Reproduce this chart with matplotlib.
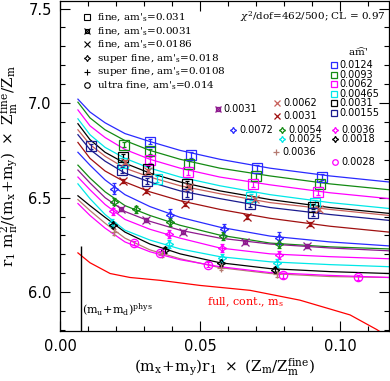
import numpy as np
import matplotlib
matplotlib.use('Agg')
import matplotlib.pyplot as plt

plt.rcParams['mathtext.fontset'] = 'dejavuserif'
plt.rcParams['font.family'] = 'DejaVu Sans'

# colours of the sea-quark masses
c_0124 = '#2a2aff'
c_0093 = '#138a13'
c_0062 = '#ff00ff'
c_00465 = '#00e8e8'
c_0031 = '#000000'
c_00155 = '#1a1a8e'
c_x0062 = '#c8605a'
c_x0031 = '#a01010'
c_purple = '#8e1a8e'
c_rosy = '#b57a70'
c_red = '#ff0000'

# x positions at which the fit curves were read
x_curve = [0.0064, 0.0107, 0.0161, 0.0232, 0.0321, 0.0429, 0.0571, 0.0750, 0.0964, 0.1175]

# fit curves, fine ensembles
fit_f0124 = [7.021, 6.953, 6.896, 6.839, 6.797, 6.750, 6.703, 6.656, 6.615, 6.583]
fit_f0093 = [7.005, 6.922, 6.859, 6.802, 6.750, 6.703, 6.656, 6.615, 6.573, 6.542]
fit_f0062 = [6.964, 6.880, 6.818, 6.755, 6.703, 6.656, 6.609, 6.568, 6.526, 6.495]
fit_f00465 = [6.917, 6.833, 6.766, 6.708, 6.656, 6.609, 6.563, 6.516, 6.474, 6.443]
fit_f0031 = [6.891, 6.807, 6.740, 6.682, 6.630, 6.583, 6.536, 6.490, 6.448, 6.417]
fit_fx0062 = [6.859, 6.781, 6.719, 6.656, 6.609, 6.563, 6.521, 6.474, 6.438, 6.406]
fit_f00155 = [6.833, 6.755, 6.693, 6.630, 6.583, 6.536, 6.495, 6.448, 6.411, 6.380]
fit_fx0031 = [6.792, 6.708, 6.641, 6.583, 6.531, 6.484, 6.438, 6.391, 6.349, 6.318]
# fit curves, super fine / ultra fine and the light-strange fine ensemble
fit_s0072 = [6.740, 6.672, 6.594, 6.516, 6.453, 6.396, 6.344, 6.297, 6.266, 6.245]
fit_s0054 = [6.672, 6.604, 6.531, 6.458, 6.406, 6.354, 6.302, 6.260, 6.240, 6.229]
fit_fq0031 = [6.646, 6.578, 6.500, 6.427, 6.375, 6.328, 6.286, 6.255, 6.234, 6.219]
fit_s0036 = [6.609, 6.542, 6.464, 6.385, 6.333, 6.286, 6.234, 6.203, 6.188, 6.177]
fit_s0025 = [6.573, 6.495, 6.411, 6.328, 6.276, 6.229, 6.188, 6.161, 6.146, 6.135]
fit_s0018 = [6.510, 6.458, 6.396, 6.318, 6.255, 6.203, 6.156, 6.125, 6.109, 6.099]
fit_s2_0036 = [6.490, 6.432, 6.365, 6.286, 6.224, 6.177, 6.130, 6.099, 6.083, 6.078]
fit_u0028 = [6.469, 6.406, 6.339, 6.266, 6.214, 6.172, 6.135, 6.104, 6.089, 6.078]

# continuum, full QCD curve
x_full = [0.0064, 0.0107, 0.0179, 0.0250, 0.0357, 0.0500, 0.0679, 0.0857, 0.1036, 0.1132, 0.1175]
y_full = [6.208, 6.156, 6.099, 6.078, 6.063, 6.036, 6.010, 5.958, 5.880, 5.802, 5.760]

m_phys = 0.0075
m_phys_top = 6.245

# data points: fine, am_s'=0.031 (squares)
x_sq0124 = [0.0321, 0.0468, 0.0704, 0.0936]
y_sq0124 = [6.797, 6.724, 6.656, 6.609]
x_sq0093 = [0.0229, 0.0321, 0.0461, 0.0700, 0.0929]
y_sq0093 = [6.781, 6.745, 6.677, 6.615, 6.573]
x_sq0062 = [0.0321, 0.0457, 0.0689, 0.0921]
y_sq0062 = [6.698, 6.635, 6.573, 6.531]
x_sq00465 = [0.0225, 0.0346, 0.0682, 0.0911]
y_sq00465 = [6.682, 6.599, 6.505, 6.474]
x_sq0031 = [0.0225, 0.0314, 0.0454, 0.0904]
y_sq0031 = [6.714, 6.651, 6.573, 6.453]
x_sq00155 = [0.0111, 0.0221, 0.0311, 0.0454, 0.0679, 0.0904]
y_sq00155 = [6.771, 6.646, 6.589, 6.521, 6.464, 6.417]
# fine, am_s'=0.0186 (crosses)
x_x0062 = [0.0232, 0.0314, 0.0461, 0.0696, 0.0925]
y_x0062 = [6.688, 6.641, 6.557, 6.495, 6.438]
x_x0031 = [0.0225, 0.0307, 0.0446, 0.0668, 0.0893]
y_x0031 = [6.589, 6.536, 6.464, 6.396, 6.359]
# fine, am_s'=0.0031
x_q0031 = [0.0218, 0.0307, 0.0439, 0.0661, 0.0882]
y_q0031 = [6.438, 6.380, 6.318, 6.266, 6.245]
# super fine, am_s'=0.018
x_s0072 = [0.0193, 0.0393, 0.0586, 0.0782]
y_s0072 = [6.547, 6.411, 6.333, 6.286]
x_s0054 = [0.0193, 0.0271, 0.0393, 0.0582, 0.0782]
y_s0054 = [6.479, 6.438, 6.370, 6.297, 6.255]
x_s0036 = [0.0189, 0.0389, 0.0579, 0.0782]
y_s0036 = [6.427, 6.307, 6.234, 6.198]
x_s0025 = [0.0186, 0.0389, 0.0579, 0.0775]
y_s0025 = [6.365, 6.255, 6.182, 6.156]
x_s0018 = [0.0189, 0.0375, 0.0575, 0.0768]
y_s0018 = [6.354, 6.224, 6.156, 6.120]
# super fine, am_s'=0.0108
x_s2_0036 = [0.0193, 0.0364, 0.0575, 0.0775]
y_s2_0036 = [6.318, 6.203, 6.130, 6.094]
# ultra fine, am_s'=0.014
x_u0028 = [0.0264, 0.0357, 0.0529, 0.0796, 0.1064]
y_u0028 = [6.260, 6.208, 6.146, 6.089, 6.078]

key_labels = ['0.0124', '0.0093', '0.0062', '0.00465', '0.0031', '0.00155']
key_colors = [c_0124, c_0093, c_0062, c_00465, c_0031, c_00155]

fig = plt.figure(figsize=(3.9, 3.81), dpi=100)
ax = fig.add_axes([60/390, 1-331/381, 329/390, 330/381])

curves = [(fit_f0124, c_0124), (fit_f0093, c_0093), (fit_f0062, c_0062),
          (fit_f00465, c_00465), (fit_f0031, c_0031), (fit_fx0062, c_x0062),
          (fit_f00155, c_00155), (fit_fx0031, c_x0031), (fit_s0072, c_0124),
          (fit_s0054, c_0093), (fit_fq0031, c_purple), (fit_s0036, c_0062),
          (fit_s0025, c_00465), (fit_s0018, c_0031), (fit_s2_0036, c_rosy),
          (fit_u0028, c_0062)]
for yy, cc in curves:
    ax.plot(x_curve, yy, color=cc, lw=0.9)
ax.plot(x_full, y_full, color=c_red, lw=0.9)
ax.vlines(m_phys, 5.5, m_phys_top, color='k', lw=1.0)

def pts(x, y, c, marker, err, ms=6):
    ax.errorbar(x, y, yerr=err, ls='none', marker=marker, mfc='none', mec=c, ecolor=c,
                ms=ms, mew=0.9, elinewidth=0.9, capsize=1.5, capthick=0.9)

for x, y, c in [(x_sq0124, y_sq0124, c_0124), (x_sq0093, y_sq0093, c_0093),
                (x_sq0062, y_sq0062, c_0062), (x_sq00465, y_sq00465, c_00465),
                (x_sq0031, y_sq0031, c_0031), (x_sq00155, y_sq00155, c_00155)]:
    pts(x, y, c, 's', 0.015, ms=6.5)
pts(x_x0062, y_x0062, c_x0062, 'x', 0.01)
pts(x_x0031, y_x0031, c_x0031, 'x', 0.01)
pts(x_q0031, y_q0031, c_purple, 's', 0.01, ms=3.5)
ax.plot(x_q0031, y_q0031, ls='none', marker='x', color=c_purple, ms=6, mew=0.9)
star = (4, 1, 0)
pts(x_s0072, y_s0072, c_0124, star, 0.03)
pts(x_s0054, y_s0054, c_0093, star, 0.02)
pts(x_s0036, y_s0036, c_0062, star, 0.02)
pts(x_s0025, y_s0025, c_00465, star, 0.02)
pts(x_s0018, y_s0018, c_0031, star, 0.015)
pts(x_s2_0036, y_s2_0036, c_rosy, '+', 0.015)
pts(x_u0028, y_u0028, c_0062, 'o', 0.012)

ax.set_xlim(0, 0.1175)
ax.set_ylim(5.795, 7.54)
ax.set_xticks([0.0, 0.05, 0.10])
ax.set_xticklabels(['0.00', '0.05', '0.10'])
ax.set_xticks(np.arange(0, 0.118, 0.01), minor=True)
ax.set_yticks([6.0, 6.5, 7.0, 7.5])
ax.set_yticks(np.arange(5.8, 7.52, 0.1), minor=True)
ax.tick_params(which='both', direction='in', top=True, right=True, width=0.8, labelsize=10.5)
ax.tick_params(which='major', length=7, pad=6)
ax.tick_params(which='minor', length=3.5)
for s in ax.spines.values():
    s.set_linewidth(0.9)

ax.set_xlabel(r'$\mathrm{(m_x\!+\!m_y)r_1\ \times\ (Z_m/Z_m^{fine})}$', fontsize=11, labelpad=2)
ax.set_ylabel(r'$\mathrm{r_1\ m_\pi^2/(m_x\!+\!m_y)\ \times\ Z_m^{fine}/Z_m}$', fontsize=11, labelpad=5)

tr = ax.transAxes
# ensemble legend
leg_rows = [0.952, 0.909, 0.870, 0.827, 0.785, 0.745]
leg_text = [r"fine, am$'_{\rm s}$=0.031", r"fine, am$'_{\rm s}$=0.0031", r"fine, am$'_{\rm s}$=0.0186",
            r"super fine, am$'_{\rm s}$=0.018", r"super fine, am$'_{\rm s}$=0.0108",
            r"ultra fine, am$'_{\rm s}$=0.014"]
leg_marks = [('s', 4), ('s', 2.5), ('x', 4), (star, 4.5), ('+', 4.5), ('o', 4)]
for fy, t, (mk, ms) in zip(leg_rows, leg_text, leg_marks):
    ax.plot([0.082], [fy], transform=tr, marker=mk, ms=ms, mfc='none', mec='k', mew=0.8, ls='none')
    ax.text(0.112, fy, t, transform=tr, fontsize=7.5, family='DejaVu Serif', va='center')
ax.plot([0.082], [leg_rows[1]], transform=tr, marker='x', ms=4, mec='k', mew=0.8, ls='none')

ax.text(0.988, 0.952, r"$\chi^2$/dof=462/500; CL = 0.97", transform=tr, fontsize=7.5,
        family='DejaVu Serif', ha='right', va='center')

# sea-mass colour key
ax.text(0.905, 0.845, r"a$\widehat{\rm m}$'", transform=tr, fontsize=7.5, family='DejaVu Serif',
        ha='center', va='center')
key_rows = [0.806, 0.776, 0.748, 0.718, 0.691, 0.661]
for fy, lab, cc in zip(key_rows, key_labels, key_colors):
    ax.plot([0.833], [fy], transform=tr, marker='s', ms=4.5, mfc='none', mec=cc, mew=0.9, ls='none')
    ax.text(0.849, fy, lab, transform=tr, fontsize=7, va='center')

small_keys = [
    (0.480, 0.673, ('s', 2.5), c_purple, '0.0031'),
    (0.660, 0.691, ('x', 4), c_x0062, '0.0062'),
    (0.660, 0.652, ('x', 4), c_x0031, '0.0031'),
    (0.526, 0.609, (star, 4.5), c_0124, '0.0072'),
    (0.675, 0.609, (star, 4.5), c_0093, '0.0054'),
    (0.836, 0.609, (star, 4.5), c_0062, '0.0036'),
    (0.675, 0.582, (star, 4.5), c_00465, '0.0025'),
    (0.836, 0.582, (star, 4.5), c_0031, '0.0018'),
    (0.657, 0.542, ('+', 4.5), c_rosy, '0.0036'),
    (0.836, 0.512, ('o', 4), c_0062, '0.0028'),
]
for fx, fy, (mk, ms), cc, lab in small_keys:
    ax.plot([fx], [fy], transform=tr, marker=mk, ms=ms, mfc='none', mec=cc, mew=0.9, ls='none')
    ax.text(fx + 0.018, fy, lab, transform=tr, fontsize=7, va='center')
ax.plot([0.480], [0.673], transform=tr, marker='x', ms=4, mec=c_purple, mew=0.9, ls='none')

ax.text(0.0080, 5.906, r'$\mathrm{(m_u\!+\!m_d)^{phys}}$', fontsize=8, va='center')
ax.text(0.0525, 5.948, r'full, cont., m$_{\rm s}$', fontsize=8, color=c_red,
        family='DejaVu Serif', va='center')

fig.savefig('out.png', dpi=100)
